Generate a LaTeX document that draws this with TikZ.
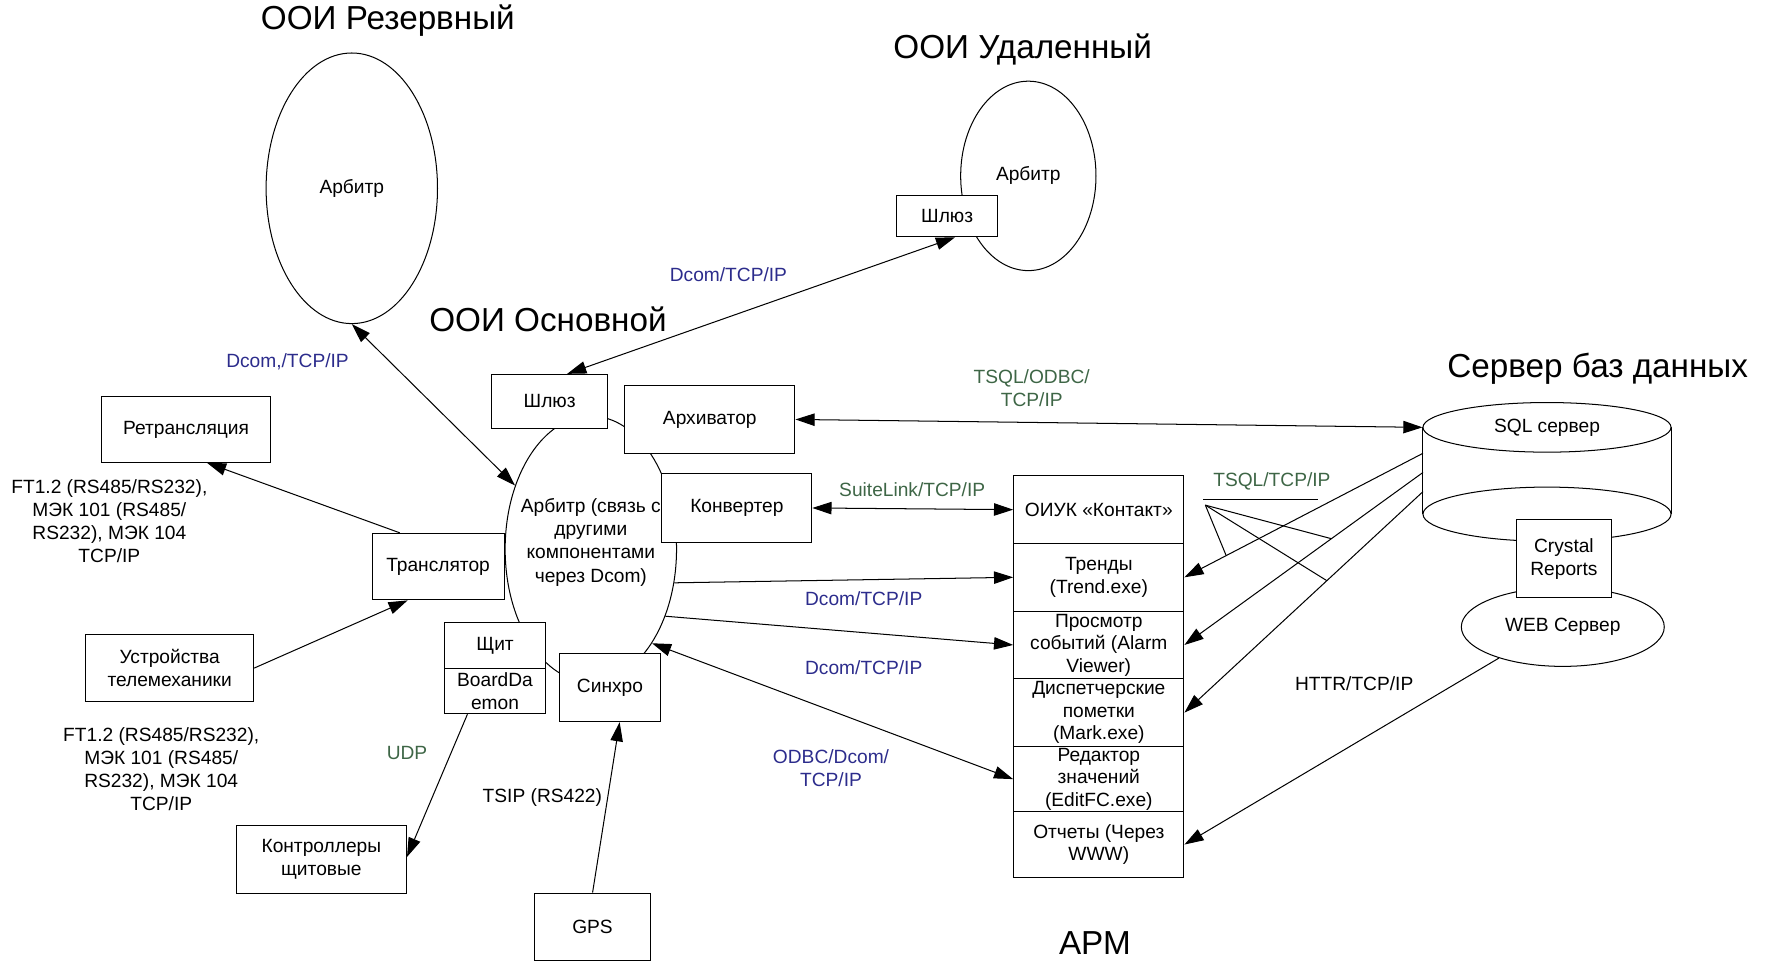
\documentclass[tikz,border=0pt]{standalone}
\usepackage{fontspec}
\setmainfont{Liberation Sans}
\usetikzlibrary{arrows.meta,shapes.geometric,calc}
\definecolor{lblue}{RGB}{44,44,140}
\definecolor{lgreen}{RGB}{62,102,70}
\newcommand\sfnt{\fontsize{17}{20.5}\selectfont}
\newcommand\rowfnt{\fontsize{17}{20}\selectfont}
\newcommand\tfnt{\fontsize{29.5}{33}\selectfont}
\begin{document}
\begin{tikzpicture}[x=1pt,y=-1pt, line width=0.9pt,
  box/.style={draw, fill=white, align=center, inner sep=0pt, font=\sfnt},
  rowbox/.style={draw, fill=white, align=center, inner sep=0pt, font=\rowfnt, minimum width=151pt},
  ell/.style={draw, ellipse, inner sep=0pt, align=center, font=\sfnt},
  lbl/.style={align=center, font=\sfnt, inner sep=0pt},
  ttl/.style={font=\tfnt, inner sep=0pt},
  arr/.style={-{Triangle[length=17pt,width=11pt]}},
  dbl/.style={{Triangle[length=17pt,width=11pt]}-{Triangle[length=17pt,width=11pt]}},
]
\useasboundingbox (0,0) rectangle (1568,853);

% titles
\node[ttl] (tRez) at (344,18) {ООИ Резервный};
\node[ttl] (tUd) at (907,44) {ООИ Удаленный};
\node[ttl] (tOsn) at (486,283) {ООИ Основной};
\node[ttl] (tDB) at (1417,327) {Сервер баз данных};
\node[ttl] (tArm) at (971,836) {АРМ};

% ellipses
\node[ell, minimum width=152pt, minimum height=240pt] (rez) at (312,167) {Арбитр};
\node[ell, minimum width=120pt, minimum height=168pt] (ud) at (912,156) {Арбитр};
\node[ell, minimum width=152pt, minimum height=236pt] (main) at (524,487) {};
\node[lbl] (mainTxt) at (524,481) {Арбитр (связь с\\другими\\компонентами\\через Dcom)};

% database cylinder
\draw (1262,379) -- (1262,456);
\draw (1482,379) -- (1482,456);
\draw (1372,456) ellipse [x radius=110pt, y radius=24pt];
\node[ell, minimum width=220pt, minimum height=44pt, fill=white] (sql) at (1372,379) {SQL сервер};
\node[ell, minimum width=180pt, minimum height=70pt, fill=white] (web) at (1386,556) {WEB Сервер};
\node[box, minimum width=84pt, minimum height=69pt] (cryst) at (1387,495.5) {Crystal\\Reports};

% boxes
\node[box, minimum width=90pt, minimum height=37pt] (shlU) at (840,191.5) {Шлюз};
\node[box, minimum width=103pt, minimum height=48pt] (shlA) at (487.5,356) {Шлюз};
\node[box, minimum width=151pt, minimum height=60pt] (arch) at (629.5,372) {Архиватор};
\node[box, minimum width=133pt, minimum height=61pt] (conv) at (653.5,450.5) {Конвертер};
\node[box, minimum width=150pt, minimum height=58pt] (retr) at (165,381) {Ретрансляция};
\node[box, minimum width=117pt, minimum height=59pt] (trans) at (388.5,502.5) {Транслятор};
\node[box, minimum width=149pt, minimum height=59pt] (ustr) at (150.5,592.5) {Устройства\\телемеханики};
\node[box, minimum width=90pt, minimum height=41pt] (shchit) at (439,572.5) {Щит};
\node[box, minimum width=90pt, minimum height=40pt] (board) at (439,613) {BoardDa\\emon};
\node[box, minimum width=90pt, minimum height=60pt] (sinh) at (541,610) {Синхро};
\node[box, minimum width=151pt, minimum height=60pt] (kontr) at (285,762) {Контроллеры\\щитовые};
\node[box, minimum width=103pt, minimum height=60pt] (gps) at (525.5,822) {GPS};

% APM stack
\node[rowbox, minimum height=60pt] (oiuk) at (974.5,452) {ОИУК «Контакт»};
\node[rowbox, minimum height=60pt] (trend) at (974.5,512) {Тренды\\(Trend.exe)};
\node[rowbox, minimum height=60pt] (alarm) at (974.5,572) {Просмотр\\событий (Alarm\\Viewer)};
\node[rowbox, minimum height=60pt] (mark) at (974.5,632) {Диспетчерские\\пометки\\(Mark.exe)};
\node[rowbox, minimum height=58pt] (edit) at (974.5,691) {Редактор\\значений\\(EditFC.exe)};
\node[rowbox, minimum height=58pt] (otch) at (974.5,749) {Отчеты (Через\\WWW)};

% free texts
\node[lbl] (ft1) at (97,462) {FT1.2 (RS485/RS232),\\МЭК 101 (RS485/\\RS232), МЭК 104\\TCP/IP};
\node[lbl] (ft2) at (143,682) {FT1.2 (RS485/RS232),\\МЭК 101 (RS485/\\RS232), МЭК 104\\TCP/IP};

% labels
\node[lbl, text=lblue] (l1) at (255,321) {Dcom,/TCP/IP};
\node[lbl, text=lblue] (l2) at (646,244) {Dcom/TCP/IP};
\node[lbl, text=lgreen] (l3) at (915,344) {TSQL/ODBC/\\TCP/IP};
\node[lbl, text=lgreen] (l4) at (809,434) {SuiteLink/TCP/IP};
\node[lbl, text=lblue] (l5) at (766,531) {Dcom/TCP/IP};
\node[lbl, text=lblue] (l6) at (766,592) {Dcom/TCP/IP};
\node[lbl, text=lblue] (l7) at (737,681) {ODBC/Dcom/\\TCP/IP};
\node[lbl, text=lgreen] (l8) at (1128,427) {TSQL/TCP/IP};
\node[lbl] (l9) at (1201,606) {HTTR/TCP/IP};
\node[lbl, text=lgreen] (l10) at (361,668) {UDP};
\node[lbl] (l11) at (481,707) {TSIP (RS422)};

% connectors
\draw[dbl] (rez.south) -- (main.140.6);
\draw[dbl] (shlA.north -| 503,0) -- (shlU.south -| 847,0);
\draw[dbl] (arch.east) -- (sql.west);
\draw[dbl] (conv.east) -- (oiuk.west);
\draw[arr] (main.-22.2) -- (trend.west);
\draw[arr] (main.-42.5) -- (alarm.west);
\draw[dbl] (main.-57) -- (edit.west);
\draw[arr] ([xshift=25pt]trans.north west) -- ([xshift=94pt]retr.south west);
\draw[arr] (ustr.east) -- ([xshift=32pt]trans.south west);
\draw[arr] ([xshift=21pt]board.south west) -- ([yshift=2pt]kontr.east);
\draw[arr] ([xshift=52pt]gps.north west) -- ([xshift=54pt]sinh.south west);

\coordinate (s1) at (1262,402);
\coordinate (s2) at (1262,419);
\coordinate (s3) at (1262,436);
\draw[arr] (s1) -- (trend.east);
\draw[arr] (s2) -- (alarm.east);
\draw[arr] (s3) -- (mark.east);
\draw[arr] (web.206.6) -- (otch.east);

\coordinate (ul1) at (1067,443);
\coordinate (ul2) at (1169,443);
\coordinate (apex) at (1069,448);
\draw (ul1) -- (ul2);
\draw (apex) -- ($(s1)!0.825!(trend.east)$);
\draw (apex) -- ($(s2)!0.384!(alarm.east)$);
\draw (apex) -- ($(s3)!0.403!(mark.east)$);
\end{tikzpicture}
\end{document}
